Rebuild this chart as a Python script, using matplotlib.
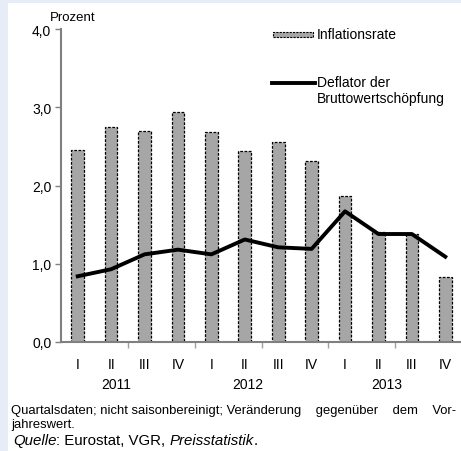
import matplotlib
matplotlib.use('Agg')
import matplotlib.pyplot as plt
from matplotlib.patches import Rectangle
from matplotlib.lines import Line2D
import numpy as np

plt.rcParams['font.family'] = ['Liberation Sans', 'DejaVu Sans']

# Data (quarterly, change vs. previous year, in %)
quarters = ['I', 'II', 'III', 'IV'] * 3
years = ['2011', '2012', '2013']
inflation = [2.46, 2.75, 2.70, 2.94, 2.68, 2.44, 2.55, 2.31, 1.87, 1.41, 1.38, 0.83]
deflator = [0.84, 0.93, 1.12, 1.18, 1.12, 1.31, 1.21, 1.19, 1.67, 1.38, 1.38, 1.09]

W, H = 461, 452
fig = plt.figure(figsize=(W / 100, H / 100), dpi=100)
fig.patch.set_facecolor('#e6edf6')
# white panel
fig.patches.append(Rectangle((8 / W, 0), 1 - 8 / W, 1 - 4 / H, transform=fig.transFigure,
                             facecolor='white', edgecolor='none', zorder=-5))

ax = fig.add_axes([61 / W, (H - 343) / H, 401 / W, 313 / H])
ax.set_facecolor('none')
ax.set_zorder(2)
x = np.arange(len(inflation))

ax.bar(x, inflation, width=0.38, color='#a6a6a6', edgecolor='black',
       linewidth=0.9, linestyle=(0, (2.2, 1.2)), zorder=2)
ax.plot(x, deflator, color='black', linewidth=2.8, solid_joinstyle='round', zorder=3)

ax.set_xlim(-0.5, len(x) - 0.5)
ax.set_ylim(0, 4)
ax.set_yticks([0, 1, 2, 3, 4])
ax.set_yticklabels(['0,0', '1,0', '2,0', '3,0', '4,0'], fontsize=10)
ax.tick_params(axis='y', colors='#808080', labelcolor='black', length=4, width=1, pad=3)

ax.set_xticks(x)
ax.set_xticklabels(quarters, fontsize=10)
ax.tick_params(axis='x', which='major', length=0, pad=11)
ax.set_xticks([1.5, 3.5, 5.5, 7.5, 9.5], minor=True)
ax.tick_params(axis='x', which='minor', length=4, width=1, colors='#a0a0a0', direction='out')

for s in ['top', 'right']:
    ax.spines[s].set_visible(False)
for s in ['left', 'bottom']:
    ax.spines[s].set_color('#808080')
    ax.spines[s].set_linewidth(1.5)

# year labels
for pos, yr in zip([1.15, 5.1, 9.25], years):
    ax.text(pos, -42 / 313, yr, transform=ax.get_xaxis_transform(), ha='center',
            va='center', fontsize=10)

ax.text(12 / 401, 1 + 12 / 313, 'Prozent', transform=ax.transAxes, ha='center',
        va='center', fontsize=9.5)

# legend
ax.add_patch(Rectangle((212 / 401, 0.976), 40 / 401, 0.016, transform=ax.transAxes,
                       facecolor='#a6a6a6', edgecolor='black', linewidth=0.8,
                       linestyle=(0, (2, 1)), clip_on=False))
ax.text(256 / 401, 308 / 313, 'Inflationsrate', transform=ax.transAxes, va='center', fontsize=10)
ax.add_line(Line2D([211 / 401, 254 / 401], [259 / 313, 259 / 313], transform=ax.transAxes,
                   color='black', linewidth=2.8, clip_on=False))
ax.text(256 / 401, 260 / 313, 'Deflator der', transform=ax.transAxes, va='center', fontsize=10)
ax.text(256 / 401, 244 / 313, 'Bruttowertschöpfung', transform=ax.transAxes, va='center',
        fontsize=10)

# footnotes
fig.text(11 / W, 1 - 414 / H,
         'Quartalsdaten; nicht saisonbereinigt; Veränderung    gegenüber    dem    Vor-',
         va='baseline', fontsize=9.4)
fig.text(11 / W, 1 - 428 / H, 'jahreswert.', va='baseline', fontsize=9.4)

renderer = fig.canvas.get_renderer()
xpos = 13 / W
for part, style in [('Quelle', 'italic'), (': Eurostat, VGR, ', 'normal'),
                    ('Preisstatistik', 'italic'), ('.', 'normal')]:
    t = fig.text(xpos, 1 - 445 / H, part, va='baseline', fontsize=10.8, style=style)
    bb = t.get_window_extent(renderer)
    xpos = bb.x1 / fig.bbox.width

fig.savefig('out.png', dpi=100, facecolor=fig.get_facecolor())
